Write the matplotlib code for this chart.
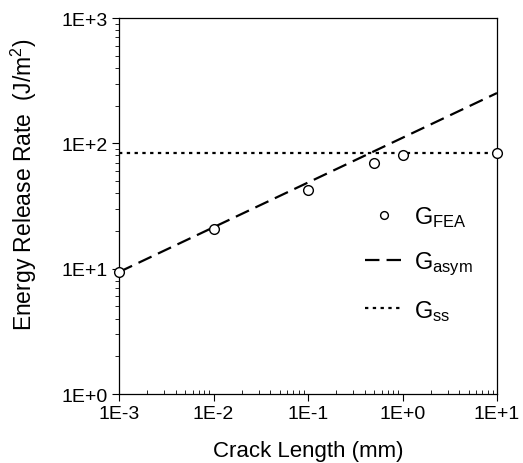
import numpy as np
import matplotlib

matplotlib.use("agg")
import matplotlib.pyplot as plt
from matplotlib.ticker import LogLocator, FuncFormatter, NullFormatter

plt.rcParams["font.family"] = ["Liberation Sans", "DejaVu Sans"]
plt.rcParams["mathtext.fontset"] = "custom"
plt.rcParams["mathtext.rm"] = "Liberation Sans"
plt.rcParams["mathtext.it"] = "Liberation Sans"

# data
crack_fea = [1e-3, 1e-2, 1e-1, 0.5, 1.0, 10.0]
g_fea = [9.4, 20.7, 42.7, 69.8, 80.8, 83.4]

crack_asym = [1e-3, 10.0]
g_asym = [9.4, 252.0]

crack_ss = [1e-3, 10.0]
g_ss = [83.5, 83.5]


def sci_label(v, pos):
    e = int(round(np.log10(v)))
    return "1E%+d" % e


fig = plt.figure(figsize=(5.23, 4.64), dpi=100)
ax = fig.add_axes([119 / 523, 1 - 395 / 464, 378 / 523, 376 / 464])

ax.plot(crack_fea, g_fea, "o", mfc="white", mec="black", mew=1.0, ms=7,
        clip_on=False, zorder=5, label=r"$G_{\mathrm{FEA}}$")
ax.plot(crack_asym, g_asym, color="black", lw=1.6, dashes=(6.5, 3.2),
        label=r"$G_{\mathrm{asym}}$")
ax.plot(crack_ss, g_ss, color="black", lw=1.6, dashes=(1.5, 2.0),
        label=r"$G_{\mathrm{ss}}$")

ax.set_xscale("log")
ax.set_yscale("log")
ax.set_xlim(1e-3, 1e1)
ax.set_ylim(1e0, 1e3)

for axis in (ax.xaxis, ax.yaxis):
    axis.set_major_locator(LogLocator(base=10, numticks=10))
    axis.set_minor_locator(LogLocator(base=10, subs=np.arange(2, 10), numticks=20))
    axis.set_major_formatter(FuncFormatter(sci_label))
    axis.set_minor_formatter(NullFormatter())

ax.tick_params(which="major", direction="out", length=5, width=0.8,
               labelsize=14)
ax.tick_params(axis="y", which="major", pad=3)
ax.tick_params(axis="x", which="major", pad=3)
ax.tick_params(axis="y", which="minor", direction="out", length=3, width=0.6)
ax.tick_params(axis="x", which="minor", direction="in", length=3, width=0.6)

for s in ax.spines.values():
    s.set_linewidth(0.9)

ax.set_xlabel("Crack Length (mm)", fontsize=16, labelpad=13)
ax.set_ylabel("Energy Release Rate  (J/m$^2$)", fontsize=16.5)
ax.yaxis.set_label_coords(-0.212, 0.56)

ax.legend(loc="upper left", bbox_to_anchor=(344 / 523, 1 - 184 / 464),
          bbox_transform=fig.transFigure, frameon=False, fontsize=17,
          handlelength=1.6, handletextpad=0.45, labelspacing=0.87,
          markerscale=0.8)

fig.savefig("out.png", dpi=100, facecolor="white")
